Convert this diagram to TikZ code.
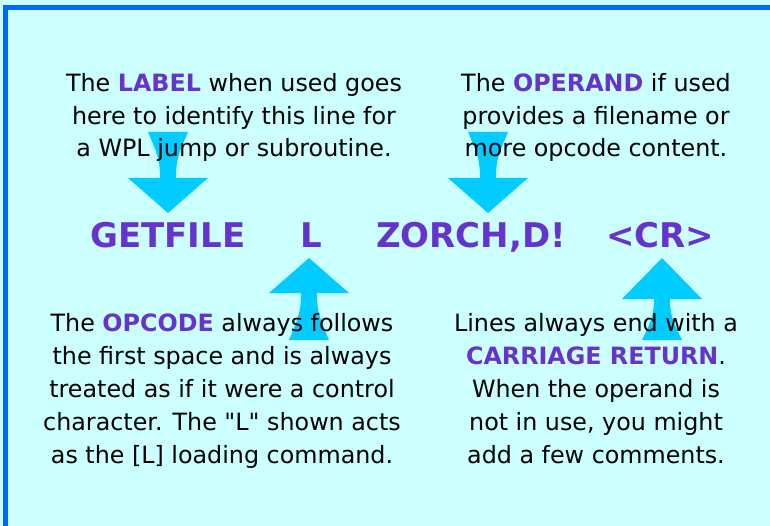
\documentclass[tikz,border=0pt]{standalone}
\usepackage{fontspec}
\setmainfont{DejaVu Sans}[Ligatures=TeXOff]
\definecolor{bgcyan}{HTML}{CCFFFF}
\definecolor{framebl}{HTML}{0066FF}
\definecolor{arrowcy}{HTML}{00CCFF}
\definecolor{purp}{HTML}{6633CC}
\newcommand{\hl}[1]{\textcolor{purp}{\textbf{#1}}}
% cx, shaft-end y, head-base y, tip y
\newcommand{\tapearrow}[4]{%
  \fill[arrowcy] ({#1-20},#2) .. controls ({#1-11},{#2+0.45*(#3-#2)}) and ({#1-8},{#3-0.4*(#3-#2)}) .. ({#1-8},#3)
    -- ({#1-40},#3) -- (#1,#4) -- ({#1+40},#3) -- ({#1+8},#3)
    .. controls ({#1+8},{#3-0.4*(#3-#2)}) and ({#1+11},{#2+0.45*(#3-#2)}) .. ({#1+20},#2) -- cycle;}
\tikzset{
  body/.style={font=\fontsize{23.8}{32.8}\selectfont, align=center, inner sep=0pt, text=black, anchor=base},
  code/.style={font=\fontsize{34}{40}\selectfont\bfseries, text=purp, inner sep=0pt, anchor=base west}
}
\begin{document}
\begin{tikzpicture}[x=1pt,y=-1pt]
\useasboundingbox (0,0) rectangle (770,526);
\fill[bgcyan] (0,0) rectangle (770,526);
\fill[framebl] (3,5) rectangle (770,10);
\fill[framebl] (3,5) rectangle (8,526);
% arrows
\tapearrow{168}{132}{178}{213}
\tapearrow{488}{132}{178}{213}
\tapearrow{309}{340}{293}{258}
\tapearrow{662}{340}{299}{258}
% code line
\node[code] (getfile) at (90,248) {GETFILE};
\node[code] (opl) at (300,248) {L};
\node[code] (zorch) at (376,248) {ZORCH,D!};
\node[code] (cr) at (606,248) {<CR>};
% text blocks (base anchor = baseline of last line)
\node[body] (label) at (234,157) {The \hl{LABEL} when used goes\\here to identify this line for\\a WPL jump or subroutine.};
\node[body] (operand) at (596,157) {The \hl{OPERAND} if used\\provides a filename or\\more opcode content.};
\node[body] (opcode) at (222,463) {The \hl{OPCODE} always follows\\the first space and is always\\treated as if it were a control\\character. The "L" shown acts\\as the [L] loading command.};
\node[body] (cret) at (596,463) {Lines always end with a\\\hl{CARRIAGE RETURN}.\\When the operand is\\not in use, you might\\add a few comments.};
\end{tikzpicture}
\end{document}
